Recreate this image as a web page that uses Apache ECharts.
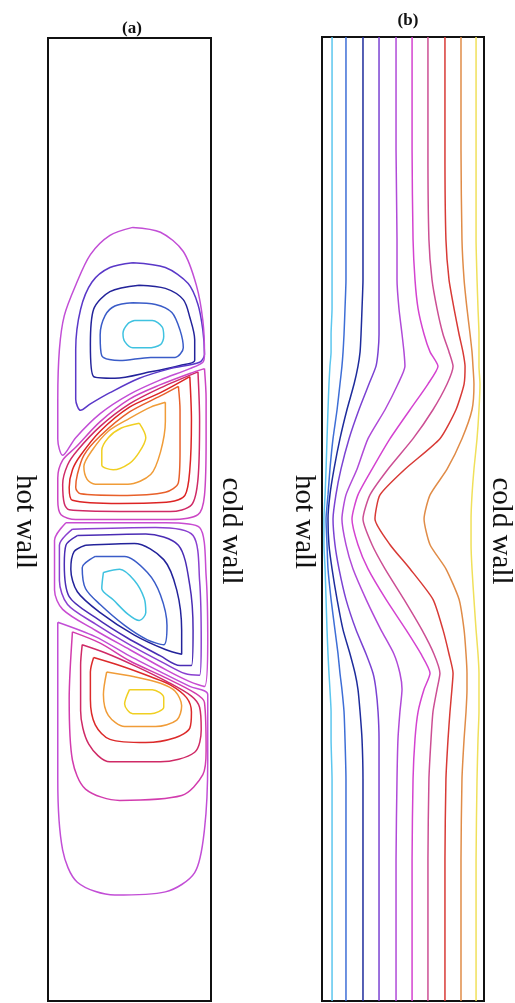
<!DOCTYPE html>
<html>
<head>
<meta charset="utf-8">
<script src="https://cdn.jsdelivr.net/npm/echarts@6/dist/echarts.min.js"></script>
<style>
html, body { margin: 0; padding: 0; background: #ffffff; }
#chart { width: 515px; height: 1003px; }
</style>
</head>
<body>
<div id="chart"></div>
<script>
// Cavity coordinates: x runs 0..1 from the hot wall to the cold wall, y runs 0..6 bottom to top.

// ---- (a) streamlines: closed loops of four stacked cells ----
const cellA_cyan = [[0.53,4.24],[0.64,4.24],[0.70,4.20],[0.71,4.14],[0.69,4.09],[0.61,4.07],[0.52,4.07],[0.47,4.11],[0.46,4.16],[0.49,4.22],[0.53,4.24]];
const cellA_blue = [[0.52,4.35],[0.66,4.34],[0.76,4.29],[0.81,4.18],[0.83,4.07],[0.78,4.01],[0.63,4.01],[0.44,3.99],[0.33,4.02],[0.32,4.15],[0.35,4.27],[0.41,4.33],[0.52,4.35]];
const cellA_navy = [[0.56,4.46],[0.72,4.44],[0.83,4.37],[0.87,4.26],[0.90,4.12],[0.90,3.99],[0.81,3.96],[0.63,3.92],[0.41,3.88],[0.28,3.89],[0.26,4.09],[0.28,4.31],[0.38,4.42],[0.56,4.46]];
const cellA_indigo = [[0.52,4.60],[0.72,4.57],[0.86,4.47],[0.92,4.34],[0.95,4.18],[0.96,4.03],[0.93,3.98],[0.75,3.94],[0.56,3.88],[0.38,3.79],[0.26,3.72],[0.20,3.68],[0.17,3.75],[0.17,4.06],[0.20,4.31],[0.27,4.48],[0.38,4.57],[0.52,4.60]];
const cellA_outer = [[0.52,4.82],[0.69,4.79],[0.83,4.67],[0.91,4.46],[0.95,4.24],[0.96,4.03],[0.95,3.98],[0.87,3.94],[0.69,3.87],[0.50,3.78],[0.32,3.66],[0.17,3.51],[0.09,3.40],[0.06,3.50],[0.06,3.75],[0.07,4.06],[0.10,4.27],[0.17,4.46],[0.26,4.65],[0.38,4.77],[0.52,4.82]];

const cellB_yellow = [[0.56,3.60],[0.60,3.51],[0.56,3.42],[0.50,3.35],[0.40,3.31],[0.33,3.34],[0.33,3.43],[0.37,3.51],[0.45,3.57],[0.56,3.60]];
const cellB_orange = [[0.72,3.73],[0.63,3.70],[0.50,3.63],[0.37,3.55],[0.27,3.43],[0.22,3.33],[0.24,3.25],[0.29,3.22],[0.49,3.22],[0.63,3.28],[0.69,3.42],[0.72,3.61],[0.72,3.73]];
const cellB_vermil = [[0.80,3.83],[0.69,3.77],[0.50,3.67],[0.32,3.52],[0.22,3.40],[0.18,3.28],[0.17,3.20],[0.20,3.16],[0.44,3.15],[0.72,3.17],[0.80,3.23],[0.81,3.43],[0.81,3.68],[0.80,3.83]];
const cellB_red = [[0.87,3.89],[0.69,3.79],[0.50,3.70],[0.32,3.55],[0.20,3.40],[0.15,3.31],[0.13,3.20],[0.15,3.12],[0.44,3.10],[0.75,3.11],[0.84,3.15],[0.87,3.31],[0.88,3.62],[0.87,3.89]];
const cellB_crimson = [[0.92,3.92],[0.69,3.82],[0.50,3.72],[0.32,3.58],[0.18,3.43],[0.12,3.34],[0.09,3.22],[0.10,3.10],[0.13,3.06],[0.44,3.05],[0.75,3.05],[0.88,3.09],[0.92,3.25],[0.93,3.62],[0.92,3.92]];
const cellB_outer = [[0.96,3.94],[0.87,3.91],[0.69,3.84],[0.50,3.75],[0.32,3.61],[0.17,3.45],[0.09,3.37],[0.06,3.26],[0.06,3.12],[0.08,3.03],[0.17,3.00],[0.44,3.00],[0.75,3.00],[0.92,3.03],[0.96,3.15],[0.97,3.50],[0.97,3.75],[0.96,3.94]];

const cellC_cyan = [[0.34,2.67],[0.44,2.69],[0.53,2.62],[0.59,2.51],[0.60,2.42],[0.56,2.37],[0.49,2.41],[0.40,2.50],[0.33,2.57],[0.34,2.67]];
const cellC_blue = [[0.29,2.77],[0.47,2.77],[0.61,2.67],[0.69,2.53],[0.73,2.34],[0.71,2.22],[0.61,2.25],[0.47,2.34],[0.32,2.47],[0.23,2.57],[0.21,2.70],[0.29,2.77]];
const cellC_navy = [[0.23,2.84],[0.53,2.85],[0.71,2.75],[0.79,2.56],[0.82,2.31],[0.82,2.16],[0.72,2.19],[0.53,2.28],[0.32,2.42],[0.18,2.55],[0.14,2.69],[0.16,2.80],[0.23,2.84]];
const cellC_indigo = [[0.18,2.90],[0.60,2.91],[0.80,2.84],[0.87,2.59],[0.89,2.31],[0.88,2.09],[0.81,2.09],[0.69,2.15],[0.49,2.26],[0.29,2.39],[0.13,2.52],[0.10,2.72],[0.11,2.84],[0.18,2.90]];
const cellC_violet = [[0.15,2.94],[0.66,2.95],[0.89,2.90],[0.93,2.62],[0.94,2.25],[0.93,2.03],[0.84,2.04],[0.72,2.10],[0.50,2.22],[0.29,2.35],[0.12,2.47],[0.07,2.62],[0.07,2.84],[0.15,2.94]];
const cellC_outer = [[0.11,2.98],[0.72,2.98],[0.93,2.95],[0.97,2.65],[0.98,2.25],[0.96,1.96],[0.87,1.99],[0.73,2.06],[0.50,2.19],[0.29,2.31],[0.09,2.44],[0.04,2.56],[0.04,2.87],[0.11,2.98]];

const cellD_yellow = [[0.50,1.94],[0.64,1.94],[0.71,1.89],[0.71,1.83],[0.63,1.79],[0.52,1.79],[0.47,1.85],[0.50,1.94]];
const cellD_orange = [[0.36,2.05],[0.53,2.02],[0.69,1.98],[0.78,1.93],[0.82,1.84],[0.79,1.75],[0.66,1.71],[0.47,1.71],[0.37,1.78],[0.34,1.91],[0.36,2.05]];
const cellD_red = [[0.28,2.14],[0.44,2.09],[0.63,2.02],[0.75,1.97],[0.85,1.89],[0.88,1.80],[0.87,1.70],[0.78,1.64],[0.60,1.61],[0.38,1.63],[0.29,1.72],[0.26,1.88],[0.26,2.05],[0.28,2.14]];
const cellD_crimson = [[0.21,2.22],[0.35,2.17],[0.53,2.09],[0.73,1.99],[0.88,1.90],[0.93,1.83],[0.94,1.69],[0.90,1.55],[0.69,1.49],[0.38,1.49],[0.25,1.60],[0.20,1.81],[0.20,2.09],[0.21,2.22]];
const cellD_pink = [[0.15,2.30],[0.32,2.23],[0.50,2.12],[0.73,2.01],[0.90,1.92],[0.96,1.86],[0.97,1.56],[0.95,1.41],[0.82,1.28],[0.44,1.25],[0.23,1.32],[0.15,1.50],[0.13,1.88],[0.15,2.30]];
const cellD_outer = [[0.06,2.36],[0.29,2.27],[0.50,2.15],[0.73,2.03],[0.87,1.96],[0.98,1.91],[0.98,1.50],[0.96,1.07],[0.90,0.80],[0.72,0.68],[0.41,0.66],[0.18,0.74],[0.09,0.94],[0.06,1.38],[0.06,1.88],[0.06,2.36]];

const streamLoops = [
  cellA_cyan, cellA_blue, cellA_navy, cellA_indigo, cellA_outer,
  cellB_yellow, cellB_orange, cellB_vermil, cellB_red, cellB_crimson, cellB_outer,
  cellC_cyan, cellC_blue, cellC_navy, cellC_indigo, cellC_violet, cellC_outer,
  cellD_yellow, cellD_orange, cellD_red, cellD_crimson, cellD_pink, cellD_outer
];
const streamColors = [
  '#3fc2e0', '#3a5cc8', '#23239a', '#5a38c8', '#c24ed6',
  '#f0cf22', '#f09c38', '#e8602a', '#dc2424', '#cf2a66', '#cc46c4',
  '#3fc2e0', '#3a5cc8', '#23239a', '#4a2cb4', '#8a40d0', '#c84cd2',
  '#f0cf22', '#f09c38', '#dc2a2a', '#cf2a66', '#d23cae', '#c24ed6'
];

// ---- (b) isotherms: x position of each level at the sampled heights ----
const isoY = [6.0, 5.30, 4.74, 4.49, 4.31, 4.15, 4.04, 3.95, 3.84, 3.68, 3.50, 3.31, 3.15, 3.00, 2.84, 2.69, 2.50, 2.31, 2.16, 2.04, 1.94, 1.80, 1.63, 1.38, 0.88, 0.0];
const iso1  = [.062,.062,.062,.062,.062,.056,.056,.049,.043,.037,.031,.025,.019,.012,.012,.019,.025,.031,.037,.043,.049,.056,.056,.062,.062,.062];
const iso2  = [.148,.148,.148,.148,.142,.136,.130,.123,.111,.093,.068,.049,.037,.025,.031,.037,.056,.080,.099,.111,.123,.136,.142,.148,.148,.148];
const iso3  = [.253,.253,.253,.253,.247,.241,.235,.222,.198,.154,.111,.074,.049,.037,.043,.062,.093,.130,.173,.204,.222,.235,.247,.253,.253,.253];
const iso4  = [.352,.352,.352,.352,.352,.352,.346,.333,.290,.228,.167,.117,.086,.068,.080,.105,.148,.210,.272,.315,.333,.346,.352,.352,.352,.352];
const iso5  = [.457,.457,.463,.463,.475,.494,.506,.512,.469,.389,.284,.216,.148,.123,.148,.191,.272,.364,.444,.481,.494,.481,.469,.463,.457,.457];
const iso6  = [.556,.556,.562,.574,.593,.630,.667,.716,.654,.543,.420,.309,.222,.185,.222,.284,.395,.519,.611,.667,.630,.593,.574,.562,.556,.556];
const iso7  = [.654,.654,.660,.679,.710,.747,.784,.809,.772,.685,.562,.407,.296,.253,.309,.389,.506,.617,.691,.728,.710,.685,.673,.660,.654,.654];
const iso8  = [.759,.759,.765,.784,.815,.846,.870,.883,.877,.827,.728,.512,.358,.327,.420,.543,.685,.747,.784,.809,.802,.790,.778,.765,.759,.759];
const iso9  = [.858,.858,.864,.877,.895,.914,.926,.932,.938,.926,.864,.772,.667,.630,.667,.765,.846,.877,.889,.895,.895,.889,.877,.864,.858,.858];
const iso10 = [.951,.951,.951,.957,.963,.969,.969,.969,.975,.969,.957,.938,.926,.920,.920,.926,.938,.951,.963,.969,.969,.969,.963,.957,.951,.951];
const isotherms = [iso1, iso2, iso3, iso4, iso5, iso6, iso7, iso8, iso9, iso10];
const isoColors = ['#5cc6ee', '#3e6ed6', '#1e2c9c', '#7a42d2', '#b04ad8', '#d443d0', '#cc4f94', '#d83a36', '#e08c48', '#f0e05a'];

const panelTitles = ['(a)', '(b)'];
const wallLabels = ['hot wall', 'cold wall'];

const series = [];
streamLoops.forEach((pts, i) => {
  series.push({
    type: 'line', xAxisIndex: 0, yAxisIndex: 0, data: pts,
    showSymbol: false, symbol: 'none', smooth: 0.3, silent: true,
    lineStyle: { color: streamColors[i], width: 1.5 }
  });
});
isotherms.forEach((xs, i) => {
  series.push({
    type: 'line', xAxisIndex: 1, yAxisIndex: 1,
    data: xs.map((x, k) => [x, isoY[k]]),
    showSymbol: false, symbol: 'none', smooth: 0.2, silent: true,
    lineStyle: { color: isoColors[i], width: 1.5 }
  });
});

const hiddenX = (idx) => ({ type: 'value', gridIndex: idx, min: 0, max: 1, show: false });
const hiddenY = (idx) => ({ type: 'value', gridIndex: idx, min: 0, max: 6, show: false });

const serif = '"Liberation Serif", "DejaVu Serif", serif';
const sideLabel = (text, x, y) => ({
  type: 'text', x: x, y: y, rotation: -Math.PI / 2, silent: true,
  style: { text: text, font: '29px ' + serif, fill: '#111', textAlign: 'center', textVerticalAlign: 'middle' }
});

const chart = echarts.init(document.getElementById('chart'), null, { renderer: 'canvas' });
chart.setOption({
  animation: false,
  backgroundColor: '#ffffff',
  grid: [
    { left: 48, top: 38, width: 163, height: 963, show: true, borderColor: '#111', borderWidth: 2, backgroundColor: 'transparent' },
    { left: 322, top: 37, width: 162, height: 964, show: true, borderColor: '#111', borderWidth: 2, backgroundColor: 'transparent' }
  ],
  xAxis: [hiddenX(0), hiddenX(1)],
  yAxis: [hiddenY(0), hiddenY(1)],
  title: [
    { text: panelTitles[0], left: 127, top: 15, textAlign: 'center', textStyle: { fontFamily: serif, fontWeight: 'bold', fontSize: 17, color: '#111' } },
    { text: panelTitles[1], left: 403, top: 7, textAlign: 'center', textStyle: { fontFamily: serif, fontWeight: 'bold', fontSize: 17, color: '#111' } }
  ],
  graphic: [
    sideLabel(wallLabels[0], 25, 522),
    sideLabel(wallLabels[1], 231, 531),
    sideLabel(wallLabels[0], 304, 522),
    sideLabel(wallLabels[1], 501, 531)
  ],
  series: series
});
</script>
</body>
</html>
